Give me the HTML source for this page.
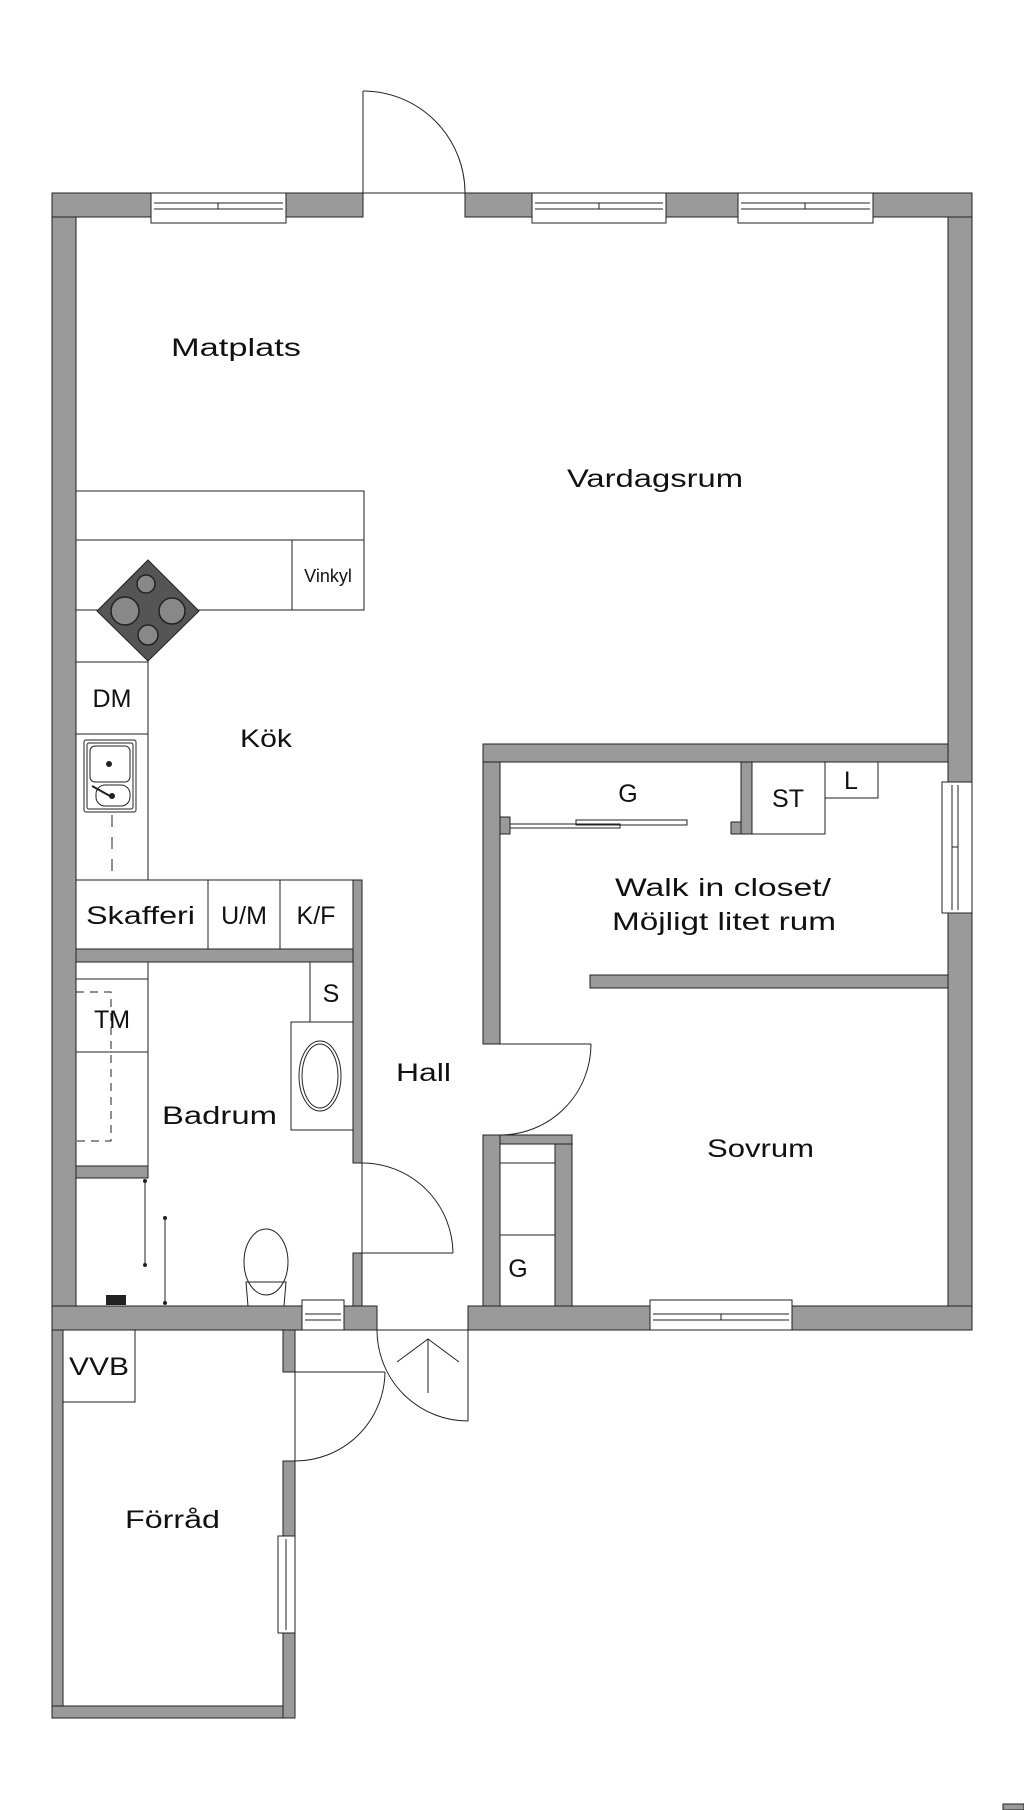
<!DOCTYPE html>
<html><head><meta charset="utf-8"><style>
html,body{margin:0;padding:0;background:#fff;}
svg{display:block;}
text{font-family:"Liberation Sans",sans-serif;fill:#111;}
</style></head><body>
<svg width="1024" height="1810" viewBox="0 0 1024 1810" xmlns="http://www.w3.org/2000/svg">
<g fill="#9a9a9a" stroke="#222" stroke-width="1">
<!-- top wall -->
<rect x="52" y="193" width="99" height="24"/>
<rect x="286" y="193" width="77" height="24"/>
<rect x="465" y="193" width="67" height="24"/>
<rect x="666" y="193" width="72" height="24"/>
<rect x="873" y="193" width="99" height="24"/>
<!-- left wall -->
<rect x="52" y="217" width="24" height="1113"/>
<!-- right wall -->
<rect x="948" y="217" width="24" height="565"/>
<rect x="948" y="913" width="24" height="417"/>
<!-- walk-in top -->
<rect x="483" y="744" width="465" height="18"/>
<rect x="483" y="762" width="17" height="282"/>
<rect x="500" y="817" width="10" height="17"/>
<rect x="741" y="762" width="11" height="72"/>
<rect x="731" y="822" width="10" height="12"/>
<rect x="590" y="975" width="358" height="13"/>
<!-- lower piece near sovrum -->
<rect x="483" y="1135" width="17" height="171"/>
<rect x="500" y="1135" width="72" height="9"/>
<rect x="555" y="1144" width="17" height="162"/>
<!-- kitchen/bath -->
<rect x="353" y="880" width="9" height="283"/>
<rect x="353" y="1253" width="9" height="53"/>
<rect x="76" y="949" width="277" height="13"/>
<rect x="76" y="1166" width="72" height="12"/>
<!-- bottom wall -->
<rect x="52" y="1306" width="250" height="24"/>
<rect x="344" y="1306" width="33" height="24"/>
<rect x="468" y="1306" width="182" height="24"/>
<rect x="792" y="1306" width="180" height="24"/>
<!-- forrad -->
<rect x="52" y="1330" width="11" height="388"/>
<rect x="52" y="1706" width="243" height="12"/>
<rect x="283" y="1330" width="12" height="42"/>
<rect x="283" y="1461" width="12" height="75"/>
<rect x="283" y="1633" width="12" height="85"/>
<rect x="1003" y="1804" width="21" height="6"/>
</g>
<!-- windows -->
<g fill="#fff" stroke="#222" stroke-width="1">
<rect x="151" y="193" width="135" height="30"/><line x1="154" y1="203" x2="283" y2="203"/><line x1="154" y1="209" x2="283" y2="209"/><line x1="218" y1="203" x2="218" y2="209"/>
<rect x="532" y="193" width="134" height="30"/><line x1="535" y1="203" x2="663" y2="203"/><line x1="535" y1="209" x2="663" y2="209"/><line x1="599" y1="203" x2="599" y2="209"/>
<rect x="738" y="193" width="135" height="30"/><line x1="741" y1="203" x2="870" y2="203"/><line x1="741" y1="209" x2="870" y2="209"/><line x1="805" y1="203" x2="805" y2="209"/>
<rect x="942" y="782" width="30" height="131"/><line x1="952" y1="785" x2="952" y2="910"/><line x1="958" y1="785" x2="958" y2="910"/><line x1="952" y1="847" x2="958" y2="847"/>
<rect x="302" y="1300" width="42" height="30"/><line x1="305" y1="1314" x2="341" y2="1314"/><line x1="305" y1="1320" x2="341" y2="1320"/>
<rect x="650" y="1300" width="142" height="30"/><line x1="653" y1="1314" x2="789" y2="1314"/><line x1="653" y1="1320" x2="789" y2="1320"/><line x1="721" y1="1314" x2="721" y2="1320"/>
<rect x="278" y="1536" width="17" height="97"/><line x1="286" y1="1539" x2="286" y2="1630"/>
</g>
<!-- doors -->
<g fill="none" stroke="#222" stroke-width="1">
<line x1="363" y1="91" x2="363" y2="193"/><path d="M363 91 A102 102 0 0 1 465 193"/><line x1="363" y1="193" x2="465" y2="193"/>
<line x1="362" y1="1163" x2="362" y2="1253"/><path d="M362 1163 A91 91 0 0 1 453 1253"/><line x1="362" y1="1253" x2="453" y2="1253"/>
<line x1="500" y1="1044" x2="591" y2="1044"/><path d="M591 1044 A91 91 0 0 1 500 1135"/>
<line x1="468" y1="1330" x2="468" y2="1421"/><path d="M377 1330 A91 91 0 0 0 468 1421"/><line x1="377" y1="1330" x2="468" y2="1330"/>
<line x1="428" y1="1339" x2="428" y2="1393"/><polyline points="397,1362 428,1339 459,1362"/>
<line x1="295" y1="1372" x2="385" y2="1372"/><path d="M385 1372 A90 90 0 0 1 295 1461"/><line x1="295" y1="1330" x2="295" y2="1461"/>
<!-- kitchen counters -->
<rect x="76" y="491" width="288" height="49"/>
<rect x="76" y="540" width="288" height="70"/>
<line x1="292" y1="540" x2="292" y2="610"/>
<polyline points="148,610 148,880"/>
<line x1="76" y1="662" x2="148" y2="662"/><line x1="76" y1="734" x2="148" y2="734"/>
<line x1="112" y1="815" x2="112" y2="880" stroke-dasharray="12,10"/>
<rect x="76" y="880" width="277" height="69"/>
<line x1="208" y1="880" x2="208" y2="949"/><line x1="280" y1="880" x2="280" y2="949"/>
<!-- walk-in items -->
<rect x="752" y="762" width="73" height="72"/><rect x="825" y="762" width="53" height="36"/>
<rect x="510" y="824" width="110" height="4"/><rect x="576" y="820" width="111" height="5"/>
<!-- bath -->
<rect x="76" y="962" width="72" height="204"/>
<line x1="76" y1="979" x2="148" y2="979"/><line x1="76" y1="1052" x2="148" y2="1052"/>
<path d="M76 992 H111 V1141 H76" stroke-dasharray="8,6"/>
<rect x="310" y="962" width="43" height="60"/>
<rect x="291" y="1022" width="62" height="108"/>
<ellipse cx="320" cy="1076" rx="21" ry="35"/><ellipse cx="320" cy="1076" rx="18" ry="32"/>
<line x1="145" y1="1181" x2="145" y2="1265"/><line x1="165" y1="1218" x2="165" y2="1303"/>
<ellipse cx="266" cy="1262" rx="22" ry="33"/>
<path d="M246 1282 L248 1306 H284 L286 1282 Z"/>
<!-- G storage -->
<rect x="500" y="1163" width="55" height="143"/><line x1="500" y1="1235" x2="555" y2="1235"/>
<!-- VVB -->
<rect x="63" y="1330" width="72" height="72"/>
<!-- kitchen sink -->
<rect x="84" y="740" width="52" height="72" rx="2"/><rect x="87" y="743" width="46" height="66" rx="2"/>
<rect x="90" y="746" width="40" height="36" rx="5"/><rect x="96" y="785" width="34" height="21" rx="9"/>
</g>
<g fill="#222"><circle cx="109" cy="764" r="3"/><circle cx="112" cy="796" r="3"/><circle cx="145" cy="1181" r="2"/><circle cx="145" cy="1265" r="2"/><circle cx="165" cy="1218" r="2"/><circle cx="165" cy="1303" r="2"/><rect x="106" y="1295" width="20" height="10"/></g>
<line x1="92" y1="786" x2="110" y2="796" stroke="#222" stroke-width="2"/>
<!-- stove -->
<polygon points="148,560 199,611 148,661 97,611" fill="#555" stroke="#222"/>
<g fill="#888" stroke="#222" stroke-width="1.5">
<circle cx="125" cy="611" r="14"/><circle cx="172" cy="611" r="13"/><circle cx="146" cy="584" r="9"/><circle cx="148" cy="635" r="10"/>
</g>
<!-- labels -->
<g font-size="25">
<text x="171" y="356" textLength="130" lengthAdjust="spacingAndGlyphs">Matplats</text>
<text x="567" y="487" textLength="176" lengthAdjust="spacingAndGlyphs">Vardagsrum</text>
<text x="240" y="747" textLength="52" lengthAdjust="spacingAndGlyphs">Kök</text>
<text x="86" y="924" textLength="109" lengthAdjust="spacingAndGlyphs">Skafferi</text>
<text x="244" y="924" text-anchor="middle">U/M</text>
<text x="316" y="924" text-anchor="middle">K/F</text>
<text x="112" y="707" text-anchor="middle">DM</text>
<text x="112" y="1028" text-anchor="middle">TM</text>
<text x="331" y="1002" text-anchor="middle">S</text>
<text x="162" y="1124" textLength="115" lengthAdjust="spacingAndGlyphs">Badrum</text>
<text x="396" y="1081" textLength="55" lengthAdjust="spacingAndGlyphs">Hall</text>
<text x="707" y="1157" textLength="107" lengthAdjust="spacingAndGlyphs">Sovrum</text>
<text x="518" y="1277" text-anchor="middle">G</text>
<text x="628" y="802" text-anchor="middle">G</text>
<text x="788" y="807" text-anchor="middle">ST</text>
<text x="851" y="789" text-anchor="middle">L</text>
<text x="615" y="896" textLength="216" lengthAdjust="spacingAndGlyphs">Walk in closet/</text>
<text x="612" y="930" textLength="224" lengthAdjust="spacingAndGlyphs">Möjligt litet rum</text>
<text x="99" y="1375" text-anchor="middle" textLength="60" lengthAdjust="spacingAndGlyphs">VVB</text>
<text x="125" y="1528" textLength="95" lengthAdjust="spacingAndGlyphs">Förråd</text>
</g>
<text x="328" y="582" font-size="18" text-anchor="middle">Vinkyl</text>
</svg>
</body></html>
